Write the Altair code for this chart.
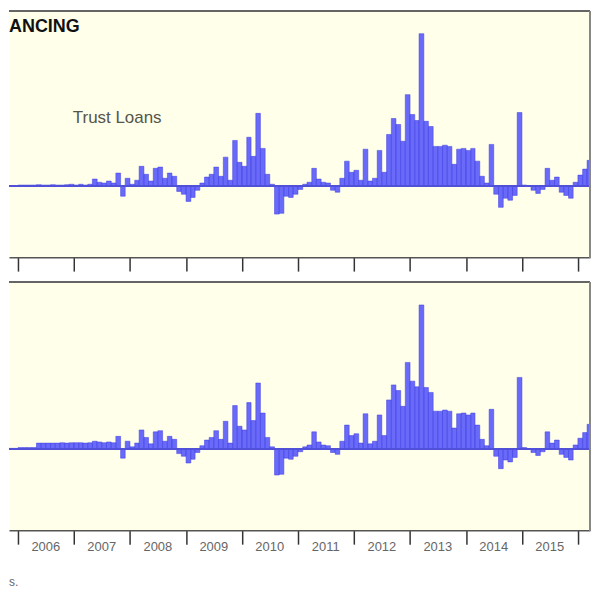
import altair as alt
import pandas as pd

# Monthly trust-loan flows (units), Nov 2005 .. May 2016
months = pd.date_range("2005-11-01", periods=127, freq="MS")

top_vals = [
    1, 1,
    3, 3, 3, 3, 4, 3, 3, 4, 3, 3, 4, 5,
    3, 5, 3, 5, 18, 10, 8, 13, 8, 33, -25, 20,
    5, 15, 50, 30, 13, 45, 48, 20, 33, 25, -13, -20,
    -38, -28, -10, 8, 23, 30, 48, 25, 73, 15, 115, 60,
    50, 123, 75, 183, 95, 30, 5, -70, -68, -25, -28, -20,
    -8, 5, 10, 45, 18, 10, 8, -10, -15, 20, 63, 35,
    40, 15, 93, 13, 20, 90, 35, 130, 170, 155, 113, 230,
    180, 165, 383, 163, 150, 100, 100, 103, 100, 55, 93, 95,
    90, 95, 63, 25, 8, 105, -20, -53, -30, -35, -23, 185,
    3, 0, -10, -18, -8, 45, 15, 23, -15, -23, -30, 10,
    28, 43, 65, 33, 20,
]

bottom_vals = [
    1, 1,
    3, 3, 3, 3, 15, 15, 15, 15, 15, 16, 15, 16,
    16, 16, 15, 16, 20, 18, 16, 18, 16, 33, -25, 20,
    5, 15, 50, 30, 13, 45, 48, 20, 33, 25, -13, -20,
    -38, -28, -10, 8, 23, 30, 48, 25, 73, 15, 115, 60,
    50, 123, 75, 175, 95, 30, 5, -70, -68, -25, -28, -20,
    -8, 5, 10, 45, 18, 10, 8, -10, -15, 20, 63, 35,
    40, 15, 93, 13, 20, 90, 35, 130, 170, 155, 113, 230,
    180, 165, 383, 163, 150, 100, 100, 103, 100, 55, 93, 95,
    90, 95, 63, 25, 8, 105, -20, -53, -30, -35, -23, 190,
    3, 0, -10, -18, -8, 45, 15, 23, -15, -23, -30, 10,
    28, 43, 65, 33, 20,
]

label_years = [2006, 2007, 2008, 2009, 2010, 2011, 2012, 2013, 2014, 2015]
tick_years = [2006, 2007, 2008, 2009, 2010, 2011, 2012, 2013, 2014, 2015, 2016]
title_text = ["ANCING"]
series_text = ["Trust Loans"]
note_text = ["s."]

W = 583
H1 = 247
H2 = 249
BG = "#FFFFEA"
BAR_FILL = "#5050fa"
BAR_STROKE = "#3a3ae4"

x_domain = [alt.DateTime(year=2005, month=11, date=3),
            alt.DateTime(year=2016, month=3, date=20)]
tick_values = [alt.DateTime(year=y, month=1, date=1) for y in tick_years]


def frame(vals):
    return pd.DataFrame({
        "date": months,
        "end": months + pd.offsets.MonthBegin(1),
        "v": vals,
    })


def x_enc():
    return alt.X(
        "date:T",
        scale=alt.Scale(domain=x_domain),
        axis=alt.Axis(values=tick_values, labels=False, title=None, grid=False,
                      tickSize=14, tickColor="#333333", tickWidth=1.5,
                      domainColor="#555555", domainWidth=1.5),
    )


def panel(vals, ydom, h):
    df = frame(vals)
    base = alt.Chart(df)
    bars = base.mark_bar(clip=True, fill=BAR_FILL, stroke=BAR_STROKE,
                         strokeWidth=0.5, fillOpacity=0.85).encode(
        x=x_enc(),
        x2="end:T",
        y=alt.Y("v:Q", scale=alt.Scale(domain=ydom, nice=False, zero=False), axis=None),
        y2=alt.datum(0),
    )
    zero = base.mark_rule(color="#5050d8", strokeWidth=1.2).encode(y=alt.datum(0))
    border_top = base.mark_rule(color="#666666", strokeWidth=1.5).encode(
        x=alt.value(0), x2=alt.value(W), y=alt.value(0))
    border_right = base.mark_rule(color="#888888", strokeWidth=1.5).encode(
        x=alt.value(W), y=alt.value(0), y2=alt.value(h))
    return [bars, zero, border_top, border_right]


top_layers = panel(top_vals, [-178, 440], H1)
title = alt.Chart(pd.DataFrame({"t": title_text})).mark_text(
    align="left", baseline="alphabetic", fontSize=18, fontWeight="bold",
    font="Liberation Sans", color="#111111").encode(
    x=alt.value(0), y=alt.value(21), text="t:N")
series = alt.Chart(pd.DataFrame({"t": series_text})).mark_text(
    align="left", baseline="alphabetic", fontSize=17,
    font="Liberation Sans", color="#55554a").encode(
    x=alt.value(64), y=alt.value(112), text="t:N")
top = alt.layer(*top_layers, title, series).properties(width=W, height=H1)

bottom_layers = panel(bottom_vals, [-217, 444], H2)
labels_df = pd.DataFrame({
    "mid": [pd.Timestamp(year=y, month=7, day=1) for y in label_years],
    "label": [str(y) for y in label_years],
})
year_labels = alt.Chart(labels_df).mark_text(
    align="center", baseline="alphabetic", fontSize=13,
    font="Liberation Sans", color="#666666").encode(
    x=alt.X("mid:T", scale=alt.Scale(domain=x_domain)),
    y=alt.value(H2 + 21), text="label:N")
note = alt.Chart(pd.DataFrame({"t": note_text})).mark_text(
    align="left", baseline="alphabetic", fontSize=12,
    font="Liberation Sans", color="#666666").encode(
    x=alt.value(0), y=alt.value(H2 + 56), text="t:N")
bottom = alt.layer(*bottom_layers, year_labels, note).properties(width=W, height=H2)

chart = alt.vconcat(top, bottom, spacing=9).properties(
    padding={"left": 0, "top": 1, "right": 1, "bottom": 0},
    background="white",
).configure_view(strokeWidth=0, fill=BG)

chart.save("out.html", embed_options={"renderer": "svg", "actions": False})
